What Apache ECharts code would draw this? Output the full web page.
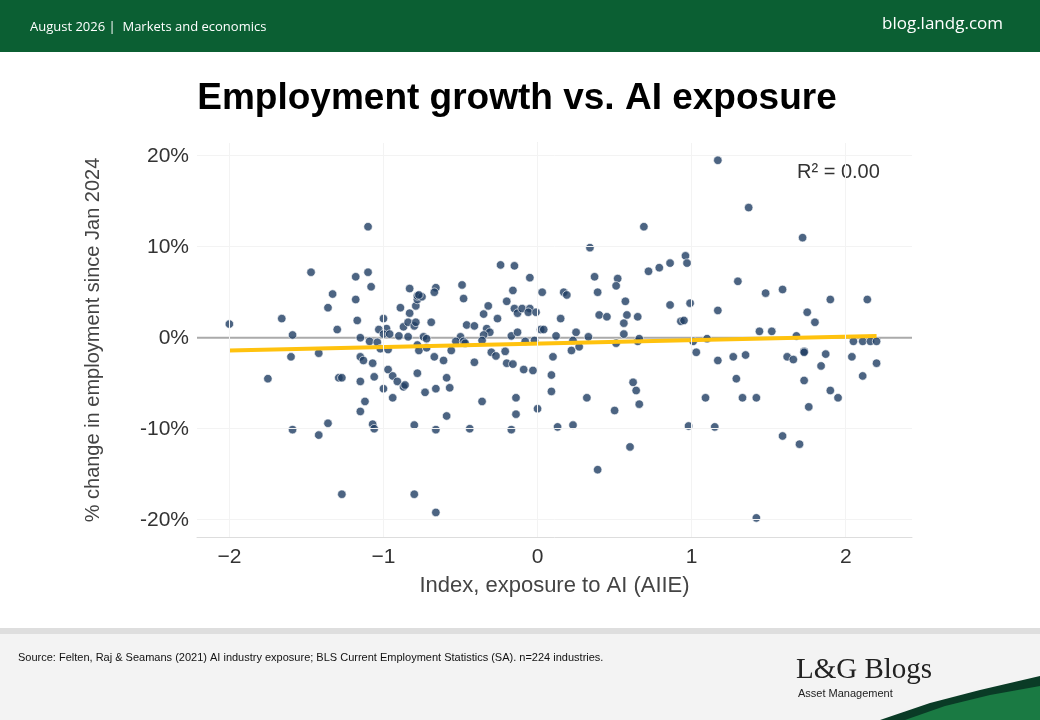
<!DOCTYPE html>
<html>
<head>
<meta charset="utf-8">
<script src="https://cdn.jsdelivr.net/npm/echarts@6/dist/echarts.min.js"></script>
<style>
  html, body { margin: 0; padding: 0; background: #fff; }
  #chart { width: 1040px; height: 720px; }
</style>
</head>
<body>
<div id="chart"></div>
<script>
// AI exposure index (x) vs % change in employment since Jan 2024 (y)
const points = [
  [-2.0, 1.5], [-1.10, 12.2], [-1.47, 7.2], [-1.10, 7.2], [-1.18, 6.7], [-1.08, 5.6], [-1.33, 4.8],
  [-1.18, 4.2], [-1.36, 3.3], [-1.66, 2.1], [-1.17, 1.9], [-1.59, 0.3], [-1.30, 0.9], [-1.60, -2.1],
  [-1.42, -1.7], [-1.75, -4.5], [-1.29, -4.4], [-1.27, -4.4], [-1.15, 0.0], [-1.15, -2.1], [-1.13, -2.5],
  [-1.09, -0.4], [-1.07, -2.8], [-1.15, -4.8], [-1.06, -4.3], [-1.12, -7.0], [-1.15, -8.1], [-1.07, -9.5],
  [-1.06, -10.0], [-1.36, -9.4], [-1.59, -10.1], [-1.42, -10.7], [-1.27, -17.2], [-0.80, -17.2], [-0.66, -19.2],
  [-1.0, 2.1], [-1.03, 0.9], [-0.98, 1.0], [-1.0, 0.4], [-0.96, 0.4], [-1.04, -0.5], [-1.02, -1.2],
  [-0.97, -1.3], [-0.97, -3.5], [-0.94, -4.2], [-0.91, -4.8], [-1.0, -5.6], [-0.94, -6.6], [-0.87, -5.4],
  [-0.86, -5.2], [-0.89, 3.3], [-0.83, 5.4], [-0.83, 2.7], [-0.87, 1.2], [-0.84, 1.7], [-0.80, 1.3],
  [-0.79, 1.7], [-0.90, 0.2], [-0.84, 0.1], [-0.79, 3.5], [-0.78, 4.2], [-0.78, 4.6], [-0.75, 4.5],
  [-0.77, 4.7], [-0.66, 5.5], [-0.67, 5.0], [-0.69, 1.7], [-0.74, 0.1], [-0.72, -0.1], [-0.78, -0.8],
  [-0.77, -1.4], [-0.72, -1.1], [-0.67, -2.1], [-0.61, -2.5], [-0.56, -1.4], [-0.78, -3.9], [-0.73, -6.0],
  [-0.66, -5.6], [-0.59, -4.4], [-0.57, -5.5], [-0.80, -9.6], [-0.66, -10.1], [-0.59, -8.6], [-0.49, 5.8],
  [-0.48, 4.3], [-0.46, 1.4], [-0.41, 1.3], [-0.50, 0.1], [-0.53, -0.4], [-0.48, -0.4], [-0.47, -0.6],
  [-0.41, -2.7], [-0.44, -10.0], [-0.36, -7.0], [-0.32, 3.5], [-0.35, 2.6], [-0.33, 1.0], [-0.31, 0.6],
  [-0.35, 0.3], [-0.36, -0.3], [-0.30, -1.6], [-0.27, -2.0], [-0.26, 2.1], [-0.24, 8.0], [-0.20, 4.0],
  [-0.16, 5.2], [-0.21, -1.5], [-0.20, -2.8], [-0.16, -2.9], [-0.17, 0.2], [-0.15, 7.9], [-0.05, 6.6],
  [-0.15, 3.2], [-0.13, 2.7], [-0.10, 3.2], [-0.05, 3.2], [-0.06, 2.8], [-0.01, 2.8], [-0.13, 0.6],
  [-0.08, -0.4], [-0.02, -0.3], [-0.09, -3.5], [-0.03, -3.6], [-0.14, -6.6], [-0.14, -8.4], [-0.17, -10.1],
  [0.0, -7.8], [0.02, 0.9], [0.03, 5.0],
  [1.17, 19.5], [1.37, 14.3], [1.72, 11.0], [0.69, 12.2], [0.34, 9.9], [0.96, 9.0], [0.97, 8.2],
  [0.86, 8.2], [0.79, 7.7], [0.72, 7.3], [0.37, 6.7], [0.52, 6.5], [0.51, 5.7], [0.39, 5.0],
  [0.17, 5.0], [0.19, 4.7], [0.57, 4.0], [0.86, 3.6], [0.99, 3.8], [1.17, 3.0], [1.30, 6.2],
  [1.48, 4.9], [1.59, 5.3], [1.90, 4.2], [2.14, 4.2], [1.75, 2.8], [1.80, 1.7], [0.40, 2.5],
  [0.45, 2.3], [0.58, 2.5], [0.56, 1.6], [0.65, 2.3], [0.15, 2.1], [0.93, 1.8], [0.95, 1.9],
  [0.04, 0.9], [0.12, 0.2], [0.25, 0.6], [0.23, -0.3], [0.33, 0.1], [0.56, 0.4], [0.51, -0.6],
  [0.65, -0.4], [0.66, -0.1], [0.22, -1.4], [0.27, -1.0], [0.10, -2.1], [0.09, -4.1], [0.09, -5.9],
  [0.32, -6.6], [0.13, -9.8], [0.23, -9.6], [0.62, -4.9], [0.64, -5.8], [0.66, -7.3], [0.50, -8.0],
  [0.60, -12.0], [0.39, -14.5], [1.01, -0.4], [1.03, -1.6], [1.10, -0.1], [1.17, -2.5], [1.27, -2.1],
  [1.35, -1.9], [1.44, 0.7], [1.52, 0.7], [1.68, 0.2], [1.73, -1.5], [1.73, -1.6], [1.62, -2.1],
  [1.66, -2.4], [1.87, -1.8], [1.84, -3.1], [2.04, -2.1], [2.05, -0.4], [2.11, -0.4], [2.16, -0.4],
  [2.20, -0.4], [2.20, -2.8], [2.11, -4.2], [1.29, -4.5], [1.73, -4.7], [1.90, -5.8], [1.95, -6.6],
  [1.76, -7.6], [1.09, -6.6], [1.33, -6.6], [1.42, -6.6], [0.98, -9.7], [1.15, -9.8], [1.59, -10.8],
  [1.70, -11.7], [1.42, -19.8]
];
const trendLine = [[-2.0, -1.4], [2.2, 0.2]];
const yTicks = [-20, -10, 0, 10, 20];
const xTicks = [-2, -1, 0, 1, 2];

const chart = echarts.init(document.getElementById('chart'));
const fmtX = v => (v < 0 ? '\u2212' + Math.abs(v) : String(v));

chart.setOption({
  animation: false,
  backgroundColor: '#fff',
  grid: { left: 197, right: 128, top: 143, bottom: 183 },
  xAxis: {
    type: 'value', min: -2.21, max: 2.43,
    name: 'Index, exposure to AI (AIIE)', nameLocation: 'middle', nameGap: 38,
    nameTextStyle: { fontSize: 22, color: '#444', fontFamily: 'Liberation Sans' },
    axisLine: { show: true, onZero: false, lineStyle: { color: '#ddd' } },
    axisTick: { show: false },
    axisLabel: { customValues: xTicks, formatter: fmtX, fontSize: 21, color: '#333', margin: 10, fontFamily: 'Liberation Sans' },
    splitLine: { show: false }
  },
  yAxis: {
    type: 'value', min: -21.9, max: 21.4,
    name: '% change in employment since Jan 2024', nameLocation: 'middle', nameGap: 94,
    nameTextStyle: { fontSize: 20, color: '#444', fontFamily: 'Liberation Sans' },
    axisLine: { show: true, lineStyle: { color: '#ddd' } },
    axisTick: { show: false },
    axisLabel: { customValues: yTicks, formatter: v => v + '%', fontSize: 21, color: '#333', margin: 8, fontFamily: 'Liberation Sans' },
    splitLine: { show: false }
  },
  series: [
    {
      type: 'scatter', data: [], silent: true,
      markLine: {
        silent: true, symbol: 'none', label: { show: false }, animation: false,
        lineStyle: { color: '#f3f3f3', type: 'solid', width: 1 },
        data: xTicks.map(v => ({ xAxis: v })).concat(yTicks.filter(v => v !== 0).map(v => ({ yAxis: v })))
      }
    },
    {
      type: 'line', data: [[-2.21, 0], [2.43, 0]], showSymbol: false, silent: true,
      lineStyle: { color: '#aaa', width: 2 }, z: 1
    },
    {
      type: 'scatter', data: points, symbolSize: 8.5, z: 3,
      itemStyle: { color: '#1f3d63', borderColor: '#fff', borderWidth: 0.8 }
    },
    {
      type: 'line', data: trendLine, showSymbol: false, z: 4,
      lineStyle: { color: '#ffc20e', width: 4 }
    }
  ],
  graphic: [
    { type: 'rect', shape: { x: 0, y: 0, width: 1040, height: 52 }, style: { fill: '#0b5f33' } },
    { type: 'text', x: 30, y: 21, style: { text: 'August 2026 |  Markets and economics', fill: '#fff', font: '13px "Open Sans"' } },
    { type: 'text', x: 882, y: 16, style: { text: 'blog.landg.com', fill: '#fff', font: '17px "Open Sans"' } },
    { type: 'text', x: 517, y: 80, style: { text: 'Employment growth vs. AI exposure', fill: '#000', font: 'bold 37px "Liberation Sans"', align: 'center' } },
    { type: 'text', x: 797, y: 162, style: { text: 'R\u00b2 = 0.00', fill: '#333', font: '20px "Liberation Sans"' } },
    { type: 'rect', shape: { x: 0, y: 628, width: 1040, height: 92 }, style: { fill: '#f3f3f3' } },
    { type: 'rect', shape: { x: 0, y: 628, width: 1040, height: 6 }, style: { fill: '#dedede' } },
    { type: 'text', x: 18, y: 652, style: { text: 'Source: Felten, Raj & Seamans (2021) AI industry exposure; BLS Current Employment Statistics (SA). n=224 industries.', fill: '#111', font: '11px "Liberation Sans Narrow", "Liberation Sans"' } },
    { type: 'text', x: 796, y: 656, style: { text: 'L&G Blogs', fill: '#222', font: '29px "Liberation Serif"' } },
    { type: 'text', x: 798, y: 688, style: { text: 'Asset Management', fill: '#222', font: '11px "Liberation Sans Narrow", "Liberation Sans"' } },
    { type: 'polygon', shape: { points: [[880, 720], [930, 703], [980, 690], [1040, 676], [1040, 720]] }, style: { fill: '#0a3b26' } },
    { type: 'polygon', shape: { points: [[905, 720], [945, 706], [990, 695], [1040, 686], [1040, 720]] }, style: { fill: '#1a7a43' } }
  ]
});
</script>
</body>
</html>
